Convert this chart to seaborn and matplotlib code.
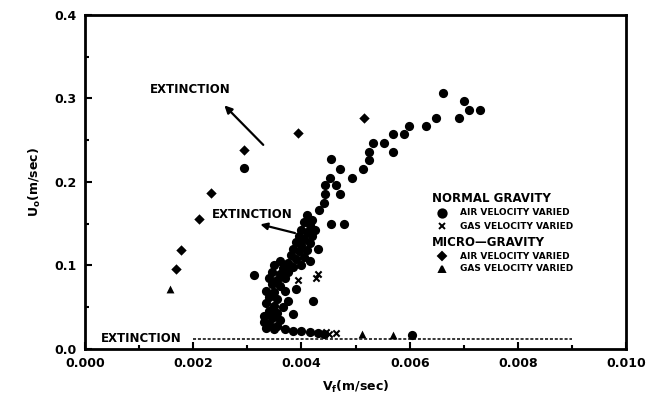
import numpy as np
import pandas as pd
import seaborn as sns
import matplotlib
matplotlib.use("Agg")
import matplotlib.pyplot as plt
from matplotlib.ticker import MultipleLocator, FormatStrFormatter

# normal gravity, air velocity varied (circles)
ng_air_v = [0.00661, 0.00700, 0.00709, 0.00730, 0.00691, 0.00648, 0.00630, 0.00598,
            0.00589, 0.00570, 0.00552, 0.00533, 0.00570, 0.00524, 0.00524, 0.00513,
            0.00494, 0.00472, 0.00454, 0.00452, 0.00463, 0.00444, 0.00444, 0.00472,
            0.00441, 0.00433, 0.00478, 0.00454, 0.00294, 0.00313, 0.00604,
            0.00410, 0.00405, 0.00415, 0.00420, 0.00400, 0.00410, 0.00425, 0.00395,
            0.00405, 0.00420, 0.00390, 0.00400, 0.00415, 0.00385, 0.00395, 0.00410,
            0.00430, 0.00380, 0.00390, 0.00405, 0.00360, 0.00375, 0.00415, 0.00350,
            0.00365, 0.00385, 0.00400, 0.00345, 0.00360, 0.00375, 0.00340, 0.00355,
            0.00370, 0.00345, 0.00360, 0.00335, 0.00350, 0.00370, 0.00390, 0.00340,
            0.00355, 0.00375, 0.00422, 0.00335, 0.00350, 0.00365, 0.00340, 0.00355,
            0.00385, 0.00330, 0.00345, 0.00360, 0.00330, 0.00340, 0.00355, 0.00335,
            0.00350, 0.00370, 0.00385, 0.00400, 0.00415, 0.00430, 0.00442]
ng_air_u = [0.307, 0.297, 0.286, 0.286, 0.276, 0.277, 0.267, 0.267,
            0.257, 0.257, 0.247, 0.247, 0.236, 0.236, 0.226, 0.216,
            0.205, 0.216, 0.227, 0.205, 0.196, 0.196, 0.186, 0.185,
            0.175, 0.166, 0.150, 0.150, 0.217, 0.089, 0.017,
            0.160, 0.152, 0.148, 0.155, 0.143, 0.140, 0.142, 0.135,
            0.132, 0.135, 0.128, 0.125, 0.127, 0.120, 0.117, 0.118,
            0.120, 0.112, 0.108, 0.110, 0.105, 0.103, 0.105, 0.100,
            0.097, 0.098, 0.100, 0.092, 0.090, 0.092, 0.085, 0.083,
            0.085, 0.078, 0.075, 0.070, 0.068, 0.070, 0.072, 0.062,
            0.060, 0.058, 0.058, 0.055, 0.052, 0.050, 0.045, 0.043,
            0.042, 0.040, 0.037, 0.035, 0.032, 0.030, 0.028, 0.025,
            0.024, 0.024, 0.022, 0.021, 0.020, 0.019, 0.018]

# normal gravity, gas velocity varied (x)
ng_gas_v = [0.00426, 0.00393, 0.00430, 0.00445, 0.00463, 0.00450]
ng_gas_u = [0.085, 0.082, 0.090, 0.020, 0.019, 0.018]

# micro-gravity, air velocity varied (diamonds)
mg_air_v = [0.00169, 0.00178, 0.00211, 0.00233, 0.00294, 0.00394, 0.00515]
mg_air_u = [0.096, 0.119, 0.156, 0.187, 0.238, 0.258, 0.277]

# micro-gravity, gas velocity varied (triangles)
mg_gas_v = [0.00157, 0.00512, 0.00570]
mg_gas_u = [0.072, 0.018, 0.017]

# extinction line
ext_v = [0.0020, 0.0090]
ext_u = [0.012, 0.012]

plt.rcParams["font.family"] = ["DejaVu Sans"]
plt.rcParams["font.weight"] = "bold"

fig, ax = plt.subplots(figsize=(6.64, 4.13), dpi=100)
fig.subplots_adjust(left=0.128, right=0.943, bottom=0.155, top=0.964)

sns.scatterplot(x=ng_air_v, y=ng_air_u, marker="o", s=44, color="black",
                edgecolor="black", linewidth=0, ax=ax)
sns.scatterplot(x=ng_gas_v, y=ng_gas_u, marker="x", s=20, color="black",
                linewidth=1.5, ax=ax)
sns.scatterplot(x=mg_air_v, y=mg_air_u, marker="D", s=28, color="black",
                edgecolor="black", linewidth=0, ax=ax)
sns.scatterplot(x=mg_gas_v, y=mg_gas_u, marker="^", s=32, color="black",
                edgecolor="black", linewidth=0, ax=ax)
sns.lineplot(x=ext_v, y=ext_u, color="black", linestyle=(0, (2, 1.2)), lw=1.1, ax=ax)

ax.set_xlim(0, 0.010)
ax.set_ylim(0, 0.4)
ax.xaxis.set_major_locator(MultipleLocator(0.002))
ax.xaxis.set_minor_locator(MultipleLocator(0.001))
ax.yaxis.set_major_locator(MultipleLocator(0.1))
ax.yaxis.set_minor_locator(MultipleLocator(0.05))
ax.xaxis.set_major_formatter(FormatStrFormatter("%.3f"))
ax.yaxis.set_major_formatter(FormatStrFormatter("%.1f"))
ax.tick_params(which="both", direction="in", width=1.5, top=False, right=False)
ax.tick_params(which="major", length=5, labelsize=9, pad=6)
ax.tick_params(which="minor", length=3)
for lab in ax.get_xticklabels() + ax.get_yticklabels():
    lab.set_fontweight("bold")
for sp in ax.spines.values():
    sp.set_linewidth(2.0)

ax.set_xlabel(r"V$_\mathbf{f}$(m/sec)", fontsize=9, fontweight="bold", labelpad=6)
ax.set_ylabel(r"U$_\mathbf{o}$(m/sec)", fontsize=9, fontweight="bold", labelpad=8)

# extinction annotations
ax.text(0.0012, 0.311, "EXTINCTION", fontsize=8.5, fontweight="bold", va="center")
ax.annotate("", xy=(0.00254, 0.294), xytext=(0.00333, 0.242),
            arrowprops=dict(arrowstyle="-|>", color="black", lw=1.6, mutation_scale=11))
ax.text(0.00235, 0.161, "EXTINCTION", fontsize=8.5, fontweight="bold", va="center")
ax.annotate("", xy=(0.00319, 0.150), xytext=(0.00393, 0.138),
            arrowprops=dict(arrowstyle="-|>", color="black", lw=1.6, mutation_scale=10))
ax.text(0.0003, 0.012, "EXTINCTION", fontsize=8.5, fontweight="bold", va="center")

# legend drawn by hand
tr = ax.transAxes
ax.text(0.641, 0.449, "NORMAL GRAVITY", transform=tr, fontsize=8.5,
        fontweight="bold", va="center")
ax.text(0.641, 0.320, "MICRO\u2014GRAVITY", transform=tr, fontsize=8.5,
        fontweight="bold", va="center")
items = [(0.407, "o", "AIR VELOCITY VARIED", 6),
         (0.368, "x", "GAS VELOCITY VARIED", 4.5),
         (0.278, "D", "AIR VELOCITY VARIED", 4.5),
         (0.240, "^", "GAS VELOCITY VARIED", 5)]
for yy, mk, lab, ms in items:
    ax.plot([0.660], [yy], marker=mk, ms=ms, color="black", mew=1.4,
            transform=tr, clip_on=False, linestyle="none")
    ax.text(0.693, yy, lab, transform=tr, fontsize=6.5, fontweight="bold", va="center")

fig.savefig("out.png", dpi=100)
